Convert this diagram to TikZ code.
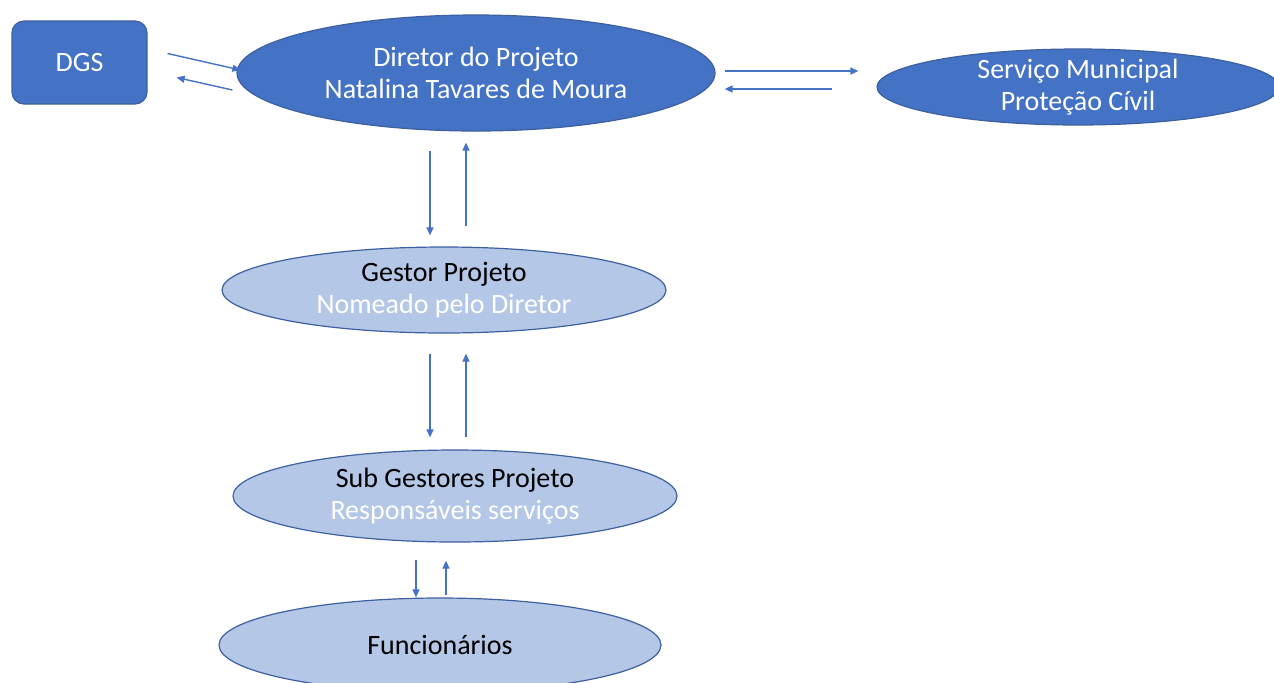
\documentclass[tikz,border=0pt]{standalone}
\usepackage{fontspec}
\setmainfont{Carlito}
\usetikzlibrary{positioning, calc, shapes.geometric, arrows.meta}

\begin{document}
\begin{tikzpicture}[
  x=0.5pt, y=-0.5pt,
  every node/.style={
    align=center,
    inner sep=0pt,
    font=\fontsize{14}{16}\selectfont,
  },
  caixa/.style={
    rectangle,
    rounded corners=6pt,
    fill=azul,
    draw=azulborda,
    line width=0.6pt,
    text=white,
  },
  escuro/.style={
    ellipse,
    fill=azul,
    draw=azulborda,
    line width=0.6pt,
    text=white,
  },
  claro/.style={
    ellipse,
    fill=azulclaro,
    draw=azulborda,
    line width=0.6pt,
    text=black,
  },
  seta/.style={
    draw=azul,
    line width=0.7pt,
    -{Triangle[length=4pt,width=3.5pt]},
  },
]
  \definecolor{azul}{RGB}{68,114,196}
  \definecolor{azulborda}{RGB}{60,96,160}
  \definecolor{azulclaro}{RGB}{180,199,231}
  \useasboundingbox (0,0) rectangle (1274,682);

  \node[
    escuro,
    minimum width=239pt,
    minimum height=58pt,
  ] (diretor) at (476,73)
  {
    Diretor do Projeto\\
    Natalina Tavares de Moura
  };
  \node[
    caixa,
    minimum width=67.5pt,
    minimum height=41.5pt,
  ] (dgs) at (79.5,62.5) {DGS};
  \node[
    escuro,
    minimum width=201pt,
    minimum height=38pt,
    inner ysep=-5pt,
  ] (servico) at (1078,87)
  {
    Serviço Municipal\\
    Proteção Cívil
  };

  \node[
    claro,
    minimum width=222pt,
    minimum height=43pt,
  ] (gestor) at (444,290)
  {
    Gestor Projeto\\
    \textcolor{white}{Nomeado pelo Diretor}
  };
  \node[
    claro,
    minimum width=222pt,
    minimum height=46pt,
  ] (subgestores) at (455,496)
  {
    Sub Gestores Projeto\\
    \textcolor{white}{Responsáveis serviços}
  };
  \node[
    claro,
    minimum width=221pt,
    minimum height=47pt,
  ] (funcionarios) at (440,645) {Funcionários};

  % ligacoes no topo
  \draw[seta] ([shift={(20,-9)}]dgs.east) -- ([shift={(4,-3)}]diretor.west);
  \draw[seta] ([shift={(-4,17)}]diretor.west) -- ([shift={(29,15)}]dgs.east);
  \draw[seta] ([shift={(9,-2)}]diretor.east) -- ([shift={(-18,-16)}]servico.west);
  \draw[seta] ([shift={(-44,2)}]servico.west) -- ([shift={(9,16)}]diretor.east);

  % ligacoes na vertical
  \draw[seta] ([shift={(-46,19)}]diretor.south) -- ([shift={(-14,-11)}]gestor.north);
  \draw[seta] ([shift={(22,-20)}]gestor.north) -- ([shift={(-10,11)}]diretor.south);
  \draw[seta] ([shift={(-14,20)}]gestor.south) -- ([shift={(-25,-12)}]subgestores.north);
  \draw[seta] ([shift={(11,-12)}]subgestores.north) -- ([shift={(22,20)}]gestor.south);
  \draw[seta] ([shift={(-39,17)}]subgestores.south) -- ([shift={(-24,0)}]funcionarios.north);
  \draw[seta] ([shift={(6,-2)}]funcionarios.north) -- ([shift={(-9,18)}]subgestores.south);
\end{tikzpicture}
\end{document}
